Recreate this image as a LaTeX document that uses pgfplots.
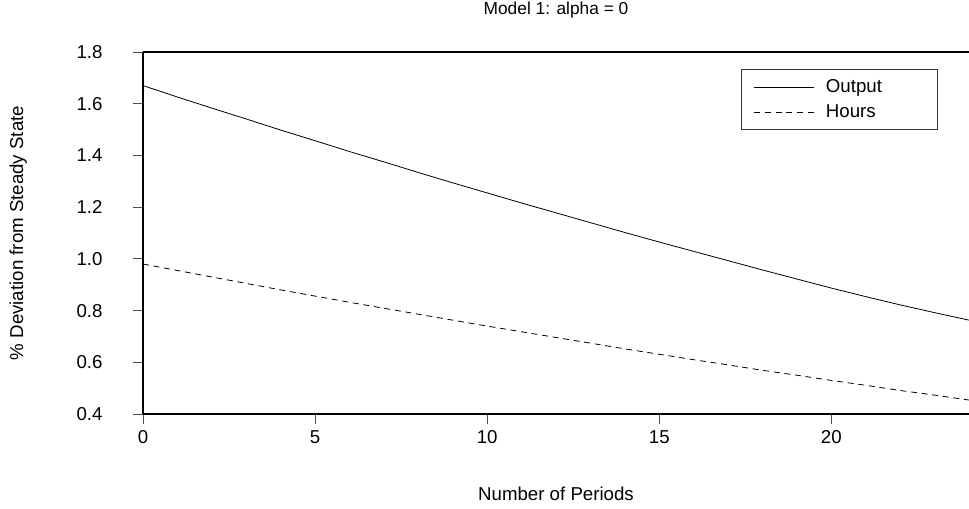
\documentclass[border=0pt]{standalone}
\usepackage{fontspec}
\setmainfont{Liberation Sans}
\usepackage{pgfplots}
\pgfplotsset{compat=1.18}
\begin{document}
\fontsize{14}{16}\selectfont
\begin{tikzpicture}
\path[use as bounding box] (0pt,0pt) rectangle (726.75pt,381pt);
\begin{axis}[
  at={(107.25pt,70.5pt)}, anchor=south west,
  width=619.5pt, height=271.5pt, scale only axis,
  xmin=0, xmax=24, ymin=0.4, ymax=1.8,
  axis x line*=bottom, axis y line*=left,
  axis line style={-},
  x axis line style={line width=0.9pt},
  y axis line style={line width=1.5pt},
  xtick={0,5,10,15,20},
  ytick={0.4,0.6,0.8,1.0,1.2,1.4,1.6,1.8},
  tick align=outside, major tick length=7.5pt,
  tick style={black!70, line width=0.6pt},
  /pgf/number format/assume math mode=true,
  yticklabel style={/pgf/number format/fixed, /pgf/number format/fixed zerofill, /pgf/number format/precision=1, xshift=-18pt},
  title={Model 1: alpha = 0},
  title style={at={(axis description cs:0.5,1.094)}, anchor=center, font=\fontsize{13}{15}\selectfont},
  xlabel={Number of Periods},
  xlabel style={at={(axis description cs:0.5,-0.221)}, anchor=center},
  ylabel={\% Deviation from Steady State},
  ylabel style={at={(axis description cs:-0.151,0.5)}, anchor=center, rotate=0},
  legend style={at={(axis description cs:0.9625,0.953)}, anchor=north east,
    draw=black!80, line width=0.6pt, inner xsep=9.75pt, inner ysep=5.2pt, row sep=3pt, column sep=6.4pt},
  legend cell align=left,
  legend image code/.code={\draw[#1] (0pt,0pt) -- (45pt,0pt);},
  clip=false,
]
\addplot[black, line width=0.6pt] coordinates {
(0,1.670) (1,1.626) (2,1.583) (3,1.541) (4,1.498) (5,1.457) (6,1.415) (7,1.375)
(8,1.334) (9,1.294) (10,1.255) (11,1.216) (12,1.178) (13,1.140) (14,1.102)
(15,1.065) (16,1.029) (17,0.993) (18,0.957) (19,0.922) (20,0.887) (21,0.854)
(22,0.822) (23,0.792) (24,0.763)};
\addlegendentry{\makebox[72pt][l]{Output}}
\addplot[black, line width=0.6pt, dash pattern=on 4.5pt off 3.5pt] coordinates {
(0,0.980) (1,0.955) (2,0.930) (3,0.905) (4,0.880) (5,0.856) (6,0.832) (7,0.809)
(8,0.786) (9,0.763) (10,0.740) (11,0.718) (12,0.696) (13,0.674) (14,0.652)
(15,0.631) (16,0.610) (17,0.590) (18,0.569) (19,0.550) (20,0.530) (21,0.511)
(22,0.491) (23,0.473) (24,0.454)};
\addlegendentry{\makebox[72pt][l]{Hours}}
\draw[line width=0.9pt] (rel axis cs:0,1) -- (rel axis cs:1,1);
\end{axis}
\end{tikzpicture}
\end{document}
